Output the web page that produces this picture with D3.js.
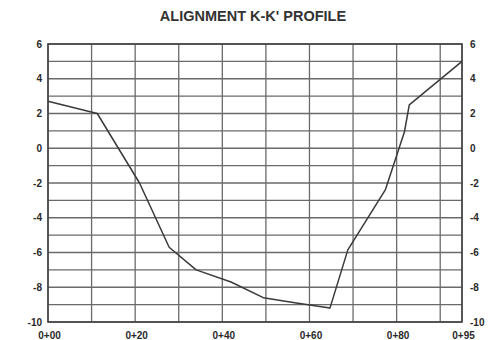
<!DOCTYPE html>
<html>
<head>
<meta charset="utf-8">
<script src="https://cdn.jsdelivr.net/npm/d3@7/dist/d3.min.js"></script>
<style>
  html, body { margin: 0; padding: 0; background: #fff; }
  svg { display: block; font-family: "Liberation Sans", Arial, sans-serif; }
</style>
</head>
<body>
<svg id="chart" width="490" height="340"></svg>
<script>
// Profile stations (metres along alignment) and ground elevations
const stations   = [0, 11.3, 21, 27.8, 34, 42, 49.4, 57, 64.7, 68.8, 77.4, 81.8, 82.9, 95];
const elevations = [2.7, 2.0, -2.0, -5.7, -7.0, -7.7, -8.6, -8.9, -9.2, -5.85, -2.4, 0.95, 2.5, 5.0];

// Axis ticks and labels
const xTickValues = [0, 20, 40, 60, 80, 95];
const xTickLabels = ["0+00", "0+20", "0+40", "0+60", "0+80", "0+95"];
const xGridValues = [0, 10, 20, 30, 40, 50, 60, 70, 80, 90, 95];
const yTickValues = [6, 4, 2, 0, -2, -4, -6, -8, -10];
const yGridValues = d3.range(-10, 7, 1);

const svg = d3.select("#chart");
const plotL = 48, plotR = 462, plotT = 44, plotB = 322;

const x = d3.scaleLinear().domain([0, 95]).range([plotL, plotR]);
const y = d3.scaleLinear().domain([-10, 6]).range([plotB, plotT]);

// Title
svg.append("text")
  .attr("x", 253).attr("y", 21)
  .attr("text-anchor", "middle")
  .attr("font-size", 14.5).attr("font-weight", "bold")
  .attr("fill", "#333")
  .text("ALIGNMENT K-K' PROFILE");

// Grid
const grid = svg.append("g").attr("stroke", "#6a6a6a").attr("stroke-width", 1.3);
grid.selectAll("line.h").data(yGridValues).join("line")
  .attr("class", "h")
  .attr("x1", plotL).attr("x2", plotR)
  .attr("y1", d => y(d)).attr("y2", d => y(d));
grid.selectAll("line.v").data(xGridValues).join("line")
  .attr("class", "v")
  .attr("x1", d => x(d)).attr("x2", d => x(d))
  .attr("y1", plotT).attr("y2", plotB);

// Frame
svg.append("rect")
  .attr("x", plotL).attr("y", plotT)
  .attr("width", plotR - plotL).attr("height", plotB - plotT)
  .attr("fill", "none").attr("stroke", "#444").attr("stroke-width", 1.6);

// Labels use a plain hyphen for negative elevations
const yFmt = d => String(d);

// Left axis labels
const yAxisL = d3.axisLeft(y).tickValues(yTickValues).tickSize(0).tickPadding(6).tickFormat(yFmt);
const gL = svg.append("g").attr("transform", `translate(${plotL},0)`).call(yAxisL);
// Right axis labels
const yAxisR = d3.axisRight(y).tickValues(yTickValues).tickSize(0).tickPadding(8).tickFormat(yFmt);
const gR = svg.append("g").attr("transform", `translate(${plotR},0)`).call(yAxisR);
// Bottom axis labels
const xAxis = d3.axisBottom(x).tickValues(xTickValues).tickSize(0).tickPadding(10)
  .tickFormat((d, i) => xTickLabels[i]);
const gX = svg.append("g").attr("transform", `translate(1,${plotB})`).call(xAxis);

[gL, gR, gX].forEach(g => {
  g.select(".domain").remove();
  g.selectAll("text")
    .attr("font-size", 10).attr("font-weight", "bold")
    .attr("font-family", "'Liberation Sans', Arial, sans-serif")
    .attr("fill", "#2a2a2a");
});
gX.selectAll("text").attr("dy", "0.71em");

// Profile line
const line = d3.line().x((d, i) => x(stations[i])).y(d => y(d));
svg.append("path")
  .datum(elevations)
  .attr("d", line)
  .attr("fill", "none")
  .attr("stroke", "#3a3a3a")
  .attr("stroke-width", 1.5)
  .attr("stroke-linejoin", "round");
</script>
</body>
</html>
